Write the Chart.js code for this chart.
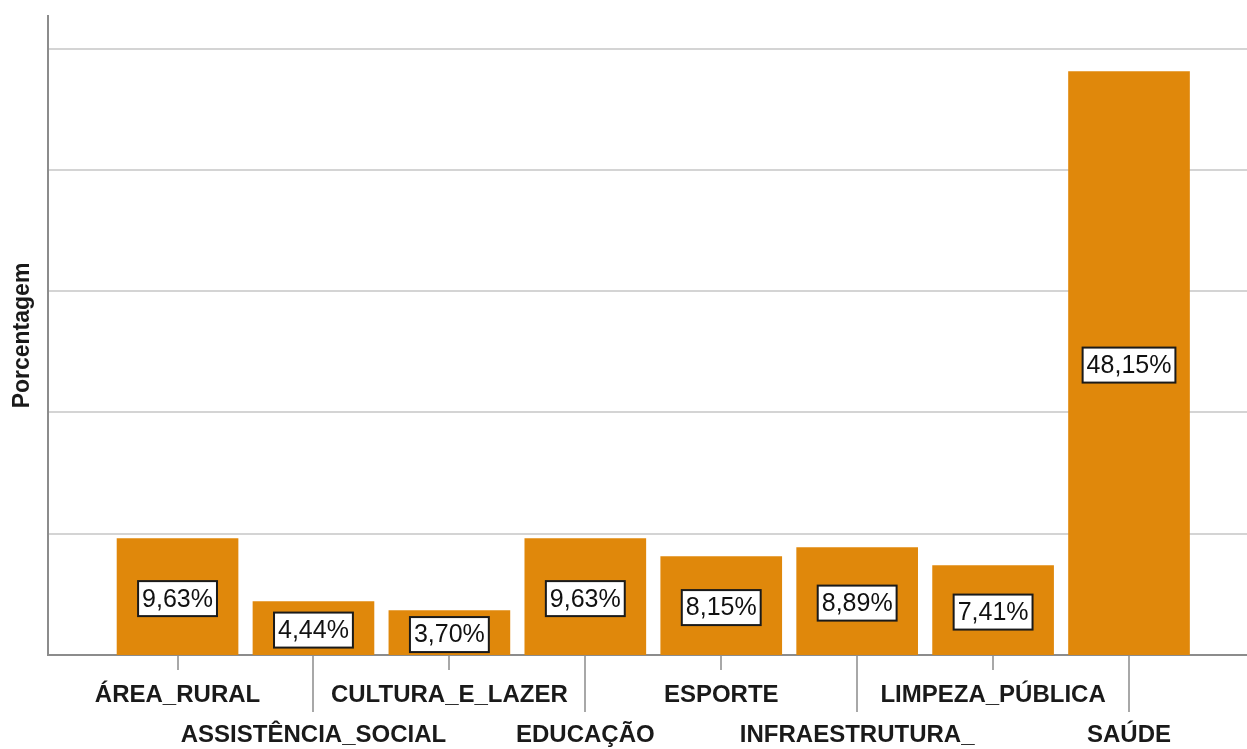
<!DOCTYPE html>
<html>
<head>
<meta charset="utf-8">
<script src="https://cdn.jsdelivr.net/npm/chart.js@4"></script>
<style>
  html, body { margin: 0; padding: 0; background: #fff; }
  #wrap { width: 1247px; height: 749px; position: relative; }
</style>
</head>
<body>
<div id="wrap"><canvas id="chart"></canvas></div>
<script>
// categories and percentages
const categories = ['ÁREA_RURAL', 'ASSISTÊNCIA_SOCIAL', 'CULTURA_E_LAZER', 'EDUCAÇÃO', 'ESPORTE', 'INFRAESTRUTURA_', 'LIMPEZA_PÚBLICA', 'SAÚDE'];
const percentages = [9.63, 4.44, 3.70, 9.63, 8.15, 8.89, 7.41, 48.15];
const gridValues = [10, 20, 30, 40, 50];

const BAR = '#E0880B';
const FONT = "'Liberation Sans', Arial, sans-serif";

const fmt = v => v.toFixed(2).replace('.', ',') + '%';

// boxed value label in the middle of each bar
const valueBoxes = {
  id: 'valueBoxes',
  afterDatasetsDraw(chart) {
    const ctx = chart.ctx;
    const meta = chart.getDatasetMeta(0);
    ctx.save();
    ctx.font = '25px ' + FONT;
    ctx.textAlign = 'center';
    ctx.textBaseline = 'middle';
    meta.data.forEach((bar, i) => {
      const txt = fmt(percentages[i]);
      const w = ctx.measureText(txt).width + 8;
      const h = 35;
      const cx = bar.x;
      const cy = (bar.y + bar.base) / 2 + 2;
      ctx.fillStyle = '#fff';
      ctx.fillRect(cx - w / 2, cy - h / 2, w, h);
      ctx.strokeStyle = '#1a1a1a';
      ctx.lineWidth = 2;
      ctx.strokeRect(cx - w / 2, cy - h / 2, w, h);
      ctx.fillStyle = '#111';
      ctx.fillText(txt, cx, cy + 1);
    });
    ctx.restore();
  }
};

// short ticks for the first label row, long ones for the second
const staggerTicks = {
  id: 'staggerTicks',
  afterDraw(chart) {
    const x = chart.scales.x;
    const ctx = chart.ctx;
    const bottom = chart.chartArea.bottom;
    ctx.save();
    ctx.strokeStyle = '#a8a8a8';
    ctx.lineWidth = 2;
    x.ticks.forEach((t, i) => {
      const px = Math.round(x.getPixelForValue(t.value));
      ctx.beginPath();
      ctx.moveTo(px, bottom + 1);
      ctx.lineTo(px, bottom + (i % 2 ? 57 : 15));
      ctx.stroke();
    });
    ctx.restore();
  }
};

new Chart(document.getElementById('chart'), {
  type: 'bar',
  data: {
    datasets: [{
      data: percentages.map((v, i) => ({ x: i, y: v })),
      backgroundColor: BAR,
      borderWidth: 0,
      categoryPercentage: 1,
      barPercentage: 0.895
    }]
  },
  options: {
    responsive: true,
    maintainAspectRatio: false,
    animation: false,
    layout: { padding: { top: 16, right: 0, bottom: 0, left: 0 } },
    plugins: {
      legend: { display: false },
      tooltip: { enabled: false }
    },
    scales: {
      x: {
        type: 'linear',
        offset: false,
        bounds: 'data',
        min: -0.953,
        max: 7.868,
        grid: { display: false, drawTicks: false },
        border: { display: true, color: '#8c8c8c', width: 2 },
        afterBuildTicks: s => { s.ticks = categories.map((_, i) => ({ value: i })); },
        afterFit: s => { s.height = 94; s.paddingLeft = 0; s.paddingRight = 0; },
        ticks: {
          autoSkip: false,
          maxRotation: 0,
          minRotation: 0,
          padding: 20,
          color: '#1a1a1a',
          font: { family: FONT, size: 24, weight: 'bold', lineHeight: 1.67 },
          callback: (v, i) => (i % 2 ? ['', categories[i]] : categories[i])
        }
      },
      y: {
        min: 0,
        max: 52.7,
        afterBuildTicks: s => { s.ticks = gridValues.map(v => ({ value: v })); },
        afterFit: s => { s.width = 48; },
        grid: { color: '#d4d4d4', lineWidth: 2, drawTicks: false },
        border: { display: true, color: '#8c8c8c', width: 2 },
        ticks: { display: false },
        title: {
          display: true,
          text: 'Porcentagem',
          color: '#1a1a1a',
          font: { family: FONT, size: 23, weight: 'bold' },
          padding: { top: 9, bottom: 0 }
        }
      }
    }
  },
  plugins: [valueBoxes, staggerTicks]
});
</script>
</body>
</html>
